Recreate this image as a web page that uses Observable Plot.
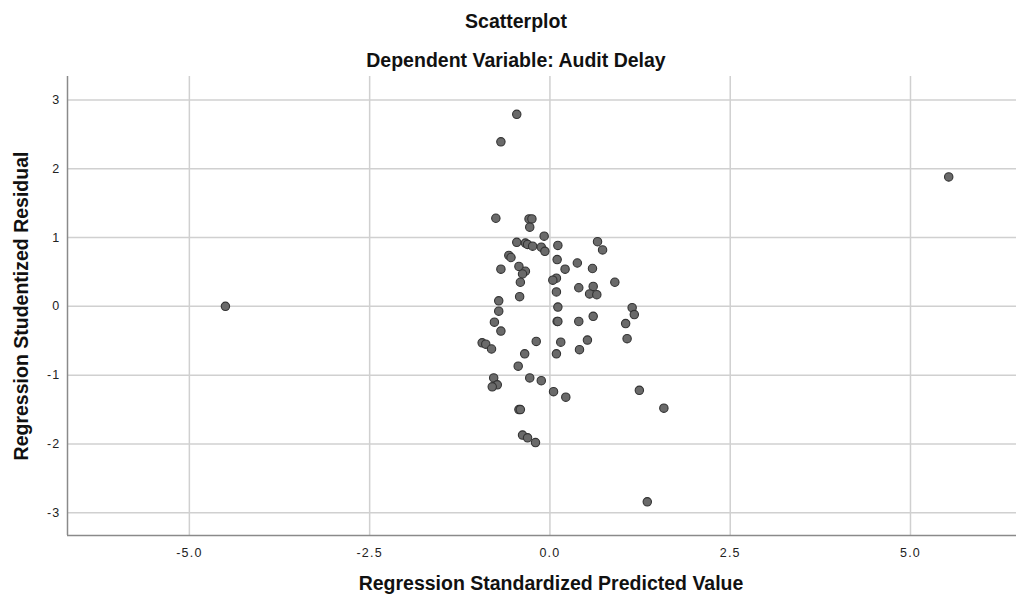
<!DOCTYPE html>
<html>
<head>
<meta charset="utf-8">
<script src="https://cdn.jsdelivr.net/npm/d3@7"></script>
<script src="https://cdn.jsdelivr.net/npm/@observablehq/plot@0.6"></script>
<style>
  html, body { margin: 0; padding: 0; background: #fff; }
  #wrap { position: relative; width: 1016px; height: 597px; font-family: "Liberation Sans", Arial, sans-serif; overflow: hidden; }
  .t { position: absolute; left: 8px; width: 1016px; text-align: center; color: #111; font-weight: bold; font-size: 19.5px; line-height: 19.5px; }
  #title { top: 12px; }
  #subtitle { top: 51px; }
</style>
</head>
<body>
<div id="wrap">
  <div id="chart"></div>
  <div class="t" id="title"></div>
  <div class="t" id="subtitle"></div>
</div>
<script>
const title = "Scatterplot";
const subtitle = "Dependent Variable: Audit Delay";
const xLabel = "Regression Standardized Predicted Value";
const yLabel = "Regression Studentized Residual";
const xTicks = [-5, -2.5, 0, 2.5, 5];
const yTicks = [-3, -2, -1, 0, 1, 2, 3];

// Regression standardized predicted value
const predicted = [
  -0.75, -0.29, -0.25, -0.28, -0.08, -0.46, -0.34, -0.31, -0.24, -0.12,
  -0.07, 0.11, 0.66, 0.73, -0.57, -0.54, 0.10, 0.38, 0.59, 0.21,
  -0.68, -0.43, -0.34, -0.38, 0.90, -0.41, 0.09, 0.04, 0.40, 0.60,
  0.55, 0.65, 0.09, -0.42, -0.71, 0.11, 1.14,
  -0.71, 1.17, -0.77, -0.68, 0.10, 0.11, 0.40, 0.60, 1.05,
  1.07, -0.94, -0.89, -0.81, -0.19, 0.15, 0.52, 0.41, -0.35, 0.09,
  -0.44,
  -0.78, -0.73, -0.80, -0.28, -0.12, 0.05, 0.22, 1.24, 1.58, -0.43,
  -0.41, -0.38, -0.31, -0.20, 1.35,
  -0.46, -0.68, -4.50, 5.53
];
// Regression studentized residual
const residual = [
  1.28, 1.27, 1.27, 1.15, 1.02, 0.93, 0.92, 0.90, 0.875, 0.86,
  0.80, 0.885, 0.94, 0.82, 0.74, 0.71, 0.68, 0.63, 0.55, 0.54,
  0.54, 0.58, 0.51, 0.47, 0.35, 0.35, 0.41, 0.38, 0.27, 0.29,
  0.18, 0.17, 0.21, 0.14, 0.08, -0.01, -0.02,
  -0.07, -0.12, -0.23, -0.36, -0.22, -0.22, -0.22, -0.145, -0.25,
  -0.47, -0.53, -0.55, -0.62, -0.51, -0.52, -0.49, -0.63, -0.69, -0.69,
  -0.87,
  -1.04, -1.14, -1.17, -1.04, -1.08, -1.24, -1.32, -1.22, -1.48, -1.50,
  -1.50, -1.87, -1.91, -1.98, -2.84,
  2.79, 2.39, 0.00, 1.88
];

document.getElementById("title").textContent = title;
document.getElementById("subtitle").textContent = subtitle;

const data = predicted.map((x, i) => ({x, y: residual[i]}));
const xFmt = d => d.toFixed(1);
const yFmt = d => String(d);

const chart = Plot.plot({
  width: 1016,
  height: 597,
  marginLeft: 67,
  marginRight: 0,
  marginTop: 76,
  marginBottom: 62,
  style: { fontFamily: "Liberation Sans, Arial, sans-serif", background: "#fff", color: "#222" },
  x: { domain: [-6.69, 6.47] },
  y: { domain: [-3.33, 3.34] },
  marks: [
    Plot.gridX(xTicks, { stroke: "#d0d0d0", strokeOpacity: 1, strokeWidth: 1.5 }),
    Plot.gridY(yTicks, { stroke: "#d0d0d0", strokeOpacity: 1, strokeWidth: 1.5 }),
    Plot.axisX(xTicks, { tickSize: 0, tickPadding: 13, fontSize: 12.5, label: null, tickFormat: xFmt, fill: "#222" }),
    Plot.axisY(yTicks, { tickSize: 0, tickPadding: 7, fontSize: 12.5, label: null, tickFormat: yFmt, fill: "#222" }),
    Plot.ruleX([-6.69], { stroke: "#8a8a8a", strokeWidth: 1.5 }),
    Plot.ruleY([-3.33], { stroke: "#8a8a8a", strokeWidth: 1.5 }),
    Plot.dot(data, { x: "x", y: "y", r: 4.2, fill: "#6a6a6a", stroke: "#333", strokeWidth: 1.1 }),
    Plot.text([xLabel], { frameAnchor: "bottom", lineAnchor: "middle", dx: 9, dy: 48, fontSize: 19.5, fontWeight: "bold", fill: "#111" }),
    Plot.text([yLabel], { frameAnchor: "left", textAnchor: "middle", lineAnchor: "middle", dx: -46, rotate: -90, fontSize: 19.5, fontWeight: "bold", fill: "#111" })
  ]
});
chart.querySelectorAll('[aria-label="x-axis tick label"] text, [aria-label="y-axis tick label"] text').forEach(t => t.setAttribute("letter-spacing", "1.2"));
document.getElementById("chart").appendChild(chart);
</script>
</body>
</html>
